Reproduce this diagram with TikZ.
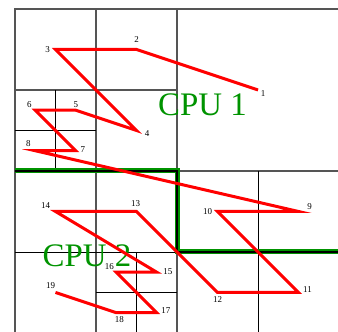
\documentclass[tikz,border=0pt]{standalone}
\usepackage{fontspec}
\setmainfont{Liberation Serif}
\usepackage{xcolor}
\usepackage{tikz}
\definecolor{gridgray}{HTML}{555555}
\definecolor{cpugreen}{HTML}{009300}
\definecolor{curvered}{HTML}{FF0000}

\begin{document}
\begin{tikzpicture}[x=81bp, y=81bp,
    coarse/.style={draw=gridgray, line width=1.4bp},
    fine/.style={draw=black, line width=0.8bp},
    partition/.style={draw=black, line width=1.3bp,
      preaction={draw=cpugreen, line width=5bp}},
    curve/.style={draw=curvered, line width=3bp},
    idx/.style={inner sep=0pt, font=\fontsize{9}{9}\selectfont},
    cpu/.style={inner sep=0pt, anchor=base, text=cpugreen,
      font=\fontsize{33}{33}\selectfont}]
    \useasboundingbox (-0.1852,0.0123) rectangle (3.9877,4.1111);
    \begin{scope}
      \clip (-0.1852,0.0123) rectangle (3.9877,4.1111);
      % cells
      \draw[coarse] (0,0) -- (0,4) -- (4,4);
      \draw[coarse] (1,0) -- (1,4);
      \draw[coarse] (2,0) -- (2,4);
      \draw[coarse] (0,3) -- (2,3);
      \draw[coarse] (0,2) -- (4,2);
      \draw[fine] (0.5,2) -- (0.5,3);
      \draw[fine] (0,2.5) -- (1,2.5);
      \draw[fine] (0,1) -- (4,1);
      \draw[fine] (3,0) -- (3,2);
      \draw[fine] (1.5,0) -- (1.5,1);
      \draw[fine] (1,0.5) -- (2,0.5);
      % border between the two CPUs
      \draw[partition] (0,2) -- (2,2) -- (2,1) -- (4,1);
      \node[cpu] (cpu1) at (2.315,2.691) {CPU 1};
      \node[cpu] (cpu2) at (0.889,0.819) {CPU 2};
      % curve points and their numbers
      \foreach \i/\x/\y/\dx/\dy in {1/3/3/5/-3.5, 2/1.5/3.5/0/9.5, 3/0.5/3.5/-8/0,
          4/1.5/2.5/10.5/-3.5, 5/0.75/2.75/0/6, 6/0.25/2.75/-6/6, 7/0.75/2.25/7/1,
          8/0.25/2.25/-7/7, 9/3.5/1.5/11/5, 10/2.5/1.5/-10/0, 11/3.5/0.5/9/3,
          12/2.5/0.5/0/-7.5, 13/1.5/1.5/-1/8, 14/0.5/1.5/-10/6, 15/1.75/0.75/11/1,
          16/1.25/0.75/-7/6, 17/1.75/0.25/9/2, 18/1.25/0.25/3/-6.5, 19/0.5/0.5/-5/7} {
        \coordinate (p\i) at (\x,\y);
        \node[idx, xshift=\dx bp, yshift=\dy bp] (n\i) at (p\i) {\i};
      }
      \draw[curve] (p1) \foreach \i in {2,...,19} { -- (p\i) };
    \end{scope}
  \end{tikzpicture}
\end{document}
